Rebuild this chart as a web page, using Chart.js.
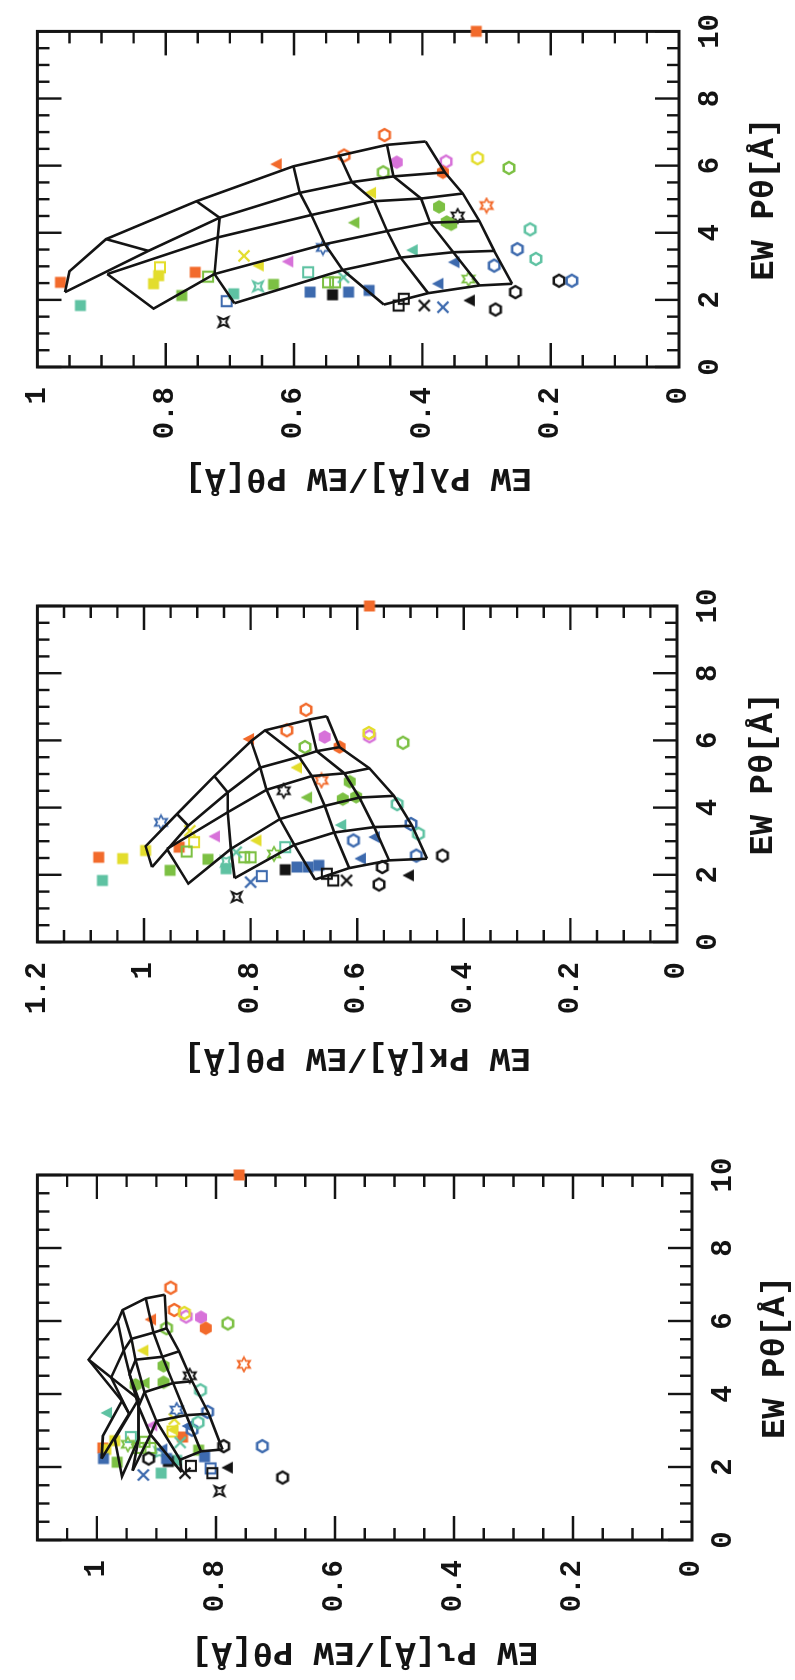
<!DOCTYPE html>
<html>
<head>
<meta charset="utf-8">
<title>EW ratios against EW P-theta</title>
<script src="https://cdn.jsdelivr.net/npm/chart.js@4.4.1/dist/chart.umd.min.js"></script>
<style>
  html, body { margin: 0; padding: 0; background: #fff; overflow: hidden; }
  /* the three panels sit side by side in one strip, turned a quarter to the left */
  #strip { position: absolute; left: 0; top: 1680px; width: 1680px; height: 795px;
           transform-origin: 0 0; transform: rotate(-90deg); }
  .panel { position: absolute; top: 0; width: 560px; height: 795px; }
</style>
</head>
<body>
<div id="strip">
  <div class="panel" style="left:0"><canvas id="cIota" width="560" height="795"></canvas></div>
  <div class="panel" style="left:560px"><canvas id="cKappa" width="560" height="795"></canvas></div>
  <div class="panel" style="left:1120px"><canvas id="cLambda" width="560" height="795"></canvas></div>
</div>
<script>
// stars: colour code + symbol + running number
var stars = [
  'orSq1','orSq2','teSq1','yeOsq1','yeSq1','yeSq2','orSq3','grOsq1','grSq1','blOsq1',
  'teSq2','bkAst1','yeX1','yeTri1','maTri1','teAst1','grSq2','orTri1','orOhex1','orOhex2',
  'maHex1','maOhex1','yeOhex1','grOhex1','grOhex2','orHex1','yeTri2','grHex1','bkStar1','grHex2',
  'grHex3','orStar1','grTri1','teOhex1','blStar1','teTri1','blOhex1','blTri1','blOhex2','teOsq1',
  'grOsq2','grOsq3','teX1','blSq1','bkSq1','blSq2','blSq3','blTri2','grStar1','bkOhex1',
  'bkOsq1','bkOsq2','bkX1','blX1','bkTri1','bkOhex2','teOhex2','bkOhex3','blOhex3'
];
var ewTheta = [
  10.0, 2.52, 1.83, 2.97, 2.72, 2.48, 2.82, 2.69, 2.13, 1.96,
  2.18, 1.34, 3.31, 3.02, 3.14, 2.40, 2.46, 6.04, 6.91, 6.30,
  6.10, 6.12, 6.22, 5.93, 5.80, 5.80, 5.19, 4.77, 4.50, 4.25,
  4.32, 4.81, 4.30, 4.10, 3.56, 3.48, 3.51, 3.12, 3.02, 2.82,
  2.52, 2.52, 2.67, 2.23, 2.15, 2.23, 2.28, 2.48, 2.62, 2.23,
  1.83, 2.03, 1.83, 1.78, 1.98, 1.71, 3.22, 2.57, 2.57
];
var ratioLambda = [
  0.316, 0.964, 0.933, 0.809, 0.811, 0.819, 0.754, 0.734, 0.775, 0.705,
  0.694, 0.710, 0.678, 0.655, 0.609, 0.656, 0.632, 0.627, 0.459, 0.522,
  0.440, 0.363, 0.314, 0.265, 0.461, 0.368, 0.480, 0.374, 0.345, 0.355,
  0.362, 0.300, 0.506, 0.232, 0.555, 0.415, 0.252, 0.350, 0.288, 0.578,
  0.547, 0.536, 0.523, 0.575, 0.540, 0.515, 0.483, 0.375, 0.328, 0.255,
  0.437, 0.429, 0.397, 0.368, 0.326, 0.286, 0.223, 0.187, 0.167
];
var ratioKappa = [
  0.577, 1.085, 1.078, 0.906, 0.997, 1.040, 0.934, 0.920, 0.951, 0.779,
  0.846, 0.826, 0.914, 0.789, 0.867, 0.846, 0.880, 0.803, 0.696, 0.732,
  0.661, 0.577, 0.578, 0.514, 0.698, 0.633, 0.713, 0.614, 0.738, 0.627,
  0.602, 0.667, 0.694, 0.525, 0.968, 0.630, 0.499, 0.567, 0.607, 0.735,
  0.812, 0.800, 0.827, 0.713, 0.735, 0.692, 0.672, 0.593, 0.756, 0.553,
  0.645, 0.657, 0.620, 0.800, 0.503, 0.559, 0.485, 0.440, 0.489
];
var ratioIota = [
  0.761, 0.990, 0.892, 0.873, 0.970, 0.985, 0.856, 0.920, 0.966, 0.809,
  0.866, 0.794, 0.870, 0.872, 0.907, 0.895, 0.829, 0.909, 0.876, 0.870,
  0.825, 0.850, 0.853, 0.780, 0.883, 0.817, 0.922, 0.888, 0.844, 0.935,
  0.888, 0.753, 0.920, 0.826, 0.866, 0.983, 0.814, 0.847, 0.840, 0.943,
  0.930, 0.910, 0.860, 0.989, 0.880, 0.883, 0.819, 0.890, 0.948, 0.913,
  0.806, 0.842, 0.852, 0.922, 0.780, 0.688, 0.830, 0.787, 0.722
];

// model grid: 6 rows x 4 columns
var gridTheta = [
  [5.98, 6.30, 6.62, 6.72],
  [5.19, 5.51, 5.68, 5.80],
  [4.53, 4.94, 5.02, 5.17],
  [3.66, 4.05, 4.30, 4.35],
  [2.89, 3.26, 3.42, 3.46],
  [1.86, 2.20, 2.43, 2.48]
];
var gridLambda = [
  [0.601, 0.529, 0.455, 0.395],
  [0.591, 0.510, 0.445, 0.365],
  [0.573, 0.475, 0.402, 0.337],
  [0.552, 0.455, 0.388, 0.311],
  [0.524, 0.434, 0.352, 0.288],
  [0.460, 0.391, 0.311, 0.260]
];
var gridKappa = [
  [0.799, 0.773, 0.690, 0.657],
  [0.782, 0.709, 0.676, 0.633],
  [0.770, 0.685, 0.624, 0.577],
  [0.745, 0.661, 0.596, 0.531],
  [0.718, 0.643, 0.568, 0.497],
  [0.679, 0.615, 0.540, 0.469]
];
var gridIota = [
  [0.965, 0.957, 0.918, 0.886],
  [0.955, 0.942, 0.905, 0.883],
  [0.945, 0.935, 0.890, 0.862],
  [0.930, 0.920, 0.872, 0.840],
  [0.910, 0.900, 0.850, 0.812],
  [0.858, 0.860, 0.825, 0.789]
];
// extra nodes where the grid folds back
var foldNames  = ['a', 'b', 'c', 'd', 'g', 'h', 'f', 'm', 'j', 'k', 'i'];
var foldTheta  = [2.23, 2.85, 3.81, 4.94, 3.46, 4.45, 2.77, 3.86, 2.77, 1.90, 1.74];
var foldLambda = [0.957, 0.950, 0.893, 0.752, 0.827, 0.716, 0.891, 0.719, 0.724, 0.693, 0.819];
var foldKappa  = [0.985, 0.997, 0.938, 0.868, 0.917, 0.843, 0.957, 0.843, 0.837, 0.830, 0.917];
var foldIota   = [0.992, 0.990, 0.958, 1.014, 0.946, 0.976, 0.970, 0.930, 0.930, 0.940, 0.958];

var ink = '#141414';
var colours = { or: '#f26a2b', ye: '#e3dd2c', gr: '#7cc043', te: '#5ec2a2',
                bl: '#3d6aae', ma: '#d772d9', bk: ink };

// small canvases used as point styles
function symbol(shape, colour) {
  var c = document.createElement('canvas'), g = c.getContext('2d'), k, t, r;
  c.width = c.height = 18;
  g.translate(9, 9);
  g.fillStyle = g.strokeStyle = colour;
  g.lineWidth = 2.2;
  g.beginPath();
  if (shape === 'Sq') {
    g.rect(-5.5, -5.5, 11, 11); g.fill();
  } else if (shape === 'Osq') {
    g.rect(-5, -5, 10, 10); g.stroke();
  } else if (shape === 'Hex' || shape === 'Ohex') {
    r = shape === 'Hex' ? 6.8 : 6;
    for (k = 0; k < 6; k++) { t = k * Math.PI / 3; g.lineTo(r * Math.cos(t), r * Math.sin(t)); }
    g.closePath();
    if (shape === 'Hex') g.fill(); else { g.lineWidth = 2.4; g.stroke(); }
  } else if (shape === 'Tri') {
    g.moveTo(0, -6.5); g.lineTo(6, 5); g.lineTo(-6, 5); g.closePath(); g.fill();
  } else if (shape === 'X') {
    g.moveTo(-5.5, -5.5); g.lineTo(5.5, 5.5); g.moveTo(5.5, -5.5); g.lineTo(-5.5, 5.5);
    g.lineWidth = 2.4; g.stroke();
  } else if (shape === 'Star') {
    for (k = 0; k < 12; k++) {
      t = k * Math.PI / 6; r = k % 2 ? 3.9 : 7;
      g.lineTo(r * Math.cos(t), r * Math.sin(t));
    }
    g.closePath(); g.lineWidth = 1.8; g.stroke();
  } else if (shape === 'Ast') {
    for (k = 0; k < 8; k++) {
      t = k * Math.PI / 4 + Math.PI / 4; r = k % 2 ? 2.6 : 7;
      g.lineTo(r * Math.cos(t), r * Math.sin(t));
    }
    g.closePath(); g.lineWidth = 1.9; g.stroke();
  }
  return c;
}

var symbols = stars.map(function (s) {
  return symbol(s.slice(2).replace(/\d+$/, ''), colours[s.slice(0, 2)]);
});

// polylines of the grid for one ratio
function meshLines(gridR, foldR) {
  var node = function (n) { var i = foldNames.indexOf(n); return { x: foldTheta[i], y: foldR[i] }; };
  var cell = function (r, c) { return { x: gridTheta[r][c], y: gridR[r][c] }; };
  var row = function (r) { return [0, 1, 2, 3].map(function (c) { return cell(r, c); }); };
  var lines = [];
  lines.push(['a', 'b', 'c', 'd'].map(node).concat(row(0)));
  lines.push(['a', 'g', 'h'].map(node).concat(row(1)));
  lines.push(['f', 'm'].map(node).concat(row(2)));
  lines.push([node('j')].concat(row(3)));
  lines.push([node('k')].concat(row(4)));
  lines.push(row(5));
  for (var c = 0; c < 4; c++) {
    lines.push([0, 1, 2, 3, 4, 5].map(function (r) { return cell(r, c); }));
  }
  lines.push(['c', 'g'].map(node), ['d', 'h'].map(node),
             ['h', 'm', 'j', 'k'].map(node), ['f', 'i', 'j'].map(node));
  return lines;
}

// box and inward ticks on all four sides
var frameTicks = {
  id: 'frameTicks',
  beforeDatasetsDraw: function (chart) {
    var a = chart.chartArea, ctx = chart.ctx, xs = chart.scales.x, ys = chart.scales.y, i, p, len;
    ctx.save();
    ctx.strokeStyle = ink;
    ctx.lineWidth = 2.4;
    ctx.beginPath();
    for (i = 0; i <= 20; i++) {
      p = xs.getPixelForValue(i / 2);
      len = i % 4 === 0 ? 24 : 12;
      ctx.moveTo(p, a.bottom); ctx.lineTo(p, a.bottom - len);
      ctx.moveTo(p, a.top); ctx.lineTo(p, a.top + len);
    }
    for (i = 1; i * 0.05 < ys.max - 1e-6; i++) {
      p = ys.getPixelForValue(i * 0.05);
      len = i % 4 === 0 ? 24 : 12;
      ctx.moveTo(a.left, p); ctx.lineTo(a.left + len, p);
      ctx.moveTo(a.right, p); ctx.lineTo(a.right - len, p);
    }
    ctx.stroke();
    ctx.lineWidth = 3;
    ctx.strokeRect(a.left, a.top, a.right - a.left, a.bottom - a.top);
    ctx.restore();
  }
};

var tickFont = { family: 'Liberation Mono', size: 29, weight: 'bold' };
var titleFont = { family: 'Liberation Mono', size: 34, weight: 'bold', lineHeight: 1 };

// area = [left, right, top, bottom] of the plot box inside each canvas
var panels = [
  { id: 'cIota', ratio: ratioIota, grid: gridIota, fold: foldIota, yMax: 1.1,
    yTitle: 'EW P\u03b9[\u00c5]/EW P\u03b8[\u00c5]', area: [140, 505, 23, 692], yPad: 11, xPad: 3 },
  { id: 'cKappa', ratio: ratioKappa, grid: gridKappa, fold: foldKappa, yMax: 1.2,
    yTitle: 'EW P\u03ba[\u00c5]/EW P\u03b8[\u00c5]', area: [178, 514, 26, 677], yPad: 45, xPad: 15 },
  { id: 'cLambda', ratio: ratioLambda, grid: gridLambda, fold: foldLambda, yMax: 1.0,
    yTitle: 'EW P\u03bb[\u00c5]/EW P\u03b8[\u00c5]', area: [193, 531, 29, 679], yPad: 65, xPad: 14 }
];

panels.forEach(function (p) {
  var a = p.area;
  var datasets = meshLines(p.grid, p.fold).map(function (line) {
    return { data: line, showLine: true, borderColor: ink, borderWidth: 2.6,
             pointRadius: 0, order: 1, clip: false };
  });
  datasets.push({
    data: stars.map(function (s, i) { return { x: ewTheta[i], y: p.ratio[i] }; }),
    pointStyle: symbols, pointRadius: 6, order: 2, clip: false
  });

  new Chart(document.getElementById(p.id), {
    type: 'scatter',
    data: { datasets: datasets },
    options: {
      responsive: false,
      animation: false,
      events: [],
      layout: { padding: { left: 0, top: a[2], right: 560 - a[1], bottom: 0 } },
      plugins: { legend: { display: false }, tooltip: { enabled: false } },
      scales: {
        x: {
          min: 0, max: 10,
          afterFit: function (s) { s.height = 795 - a[3]; },
          grid: { display: false, drawTicks: false },
          border: { display: false },
          ticks: { stepSize: 2, maxRotation: 0, autoSkip: false, padding: 14, color: ink, font: tickFont },
          title: { display: true, text: 'EW P\u03b8[\u00c5]', color: ink, font: titleFont,
                   padding: { top: 0, bottom: p.xPad } }
        },
        y: {
          min: 0, max: p.yMax,
          afterFit: function (s) { s.width = a[0]; },
          afterBuildTicks: function (s) {
            s.ticks = s.ticks.filter(function (t) { return Math.abs(t.value * 5 - Math.round(t.value * 5)) < 1e-6; });
          },
          grid: { display: false, drawTicks: false },
          border: { display: false },
          ticks: { stepSize: 0.2, padding: 20, color: ink, font: tickFont,
                   callback: function (v) { return String(Math.round(v * 10) / 10); } },
          title: { display: true, text: p.yTitle, color: ink, font: titleFont,
                   padding: { top: p.yPad, bottom: 0 } }
        }
      }
    },
    plugins: [frameTicks]
  });
});
</script>
</body>
</html>
